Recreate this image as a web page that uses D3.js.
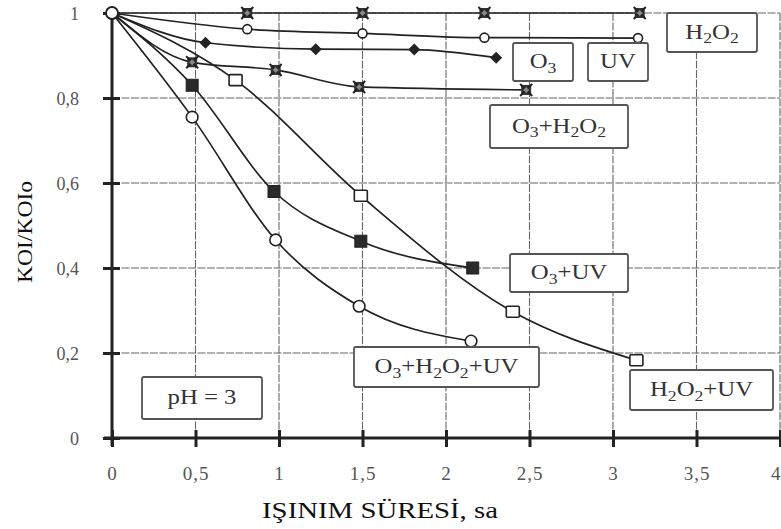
<!DOCTYPE html>
<html>
<head>
<meta charset="utf-8">
<script src="https://cdn.jsdelivr.net/npm/d3@7/dist/d3.min.js"></script>
<style>
  html, body { margin: 0; padding: 0; background: #fff; }
  svg { display: block; }
  text { font-family: "Liberation Serif", "Times New Roman", serif; }
</style>
</head>
<body>
<svg id="chart" width="781" height="529"></svg>
<script>
// Irradiation time (h)
const xTicks = [0, 0.5, 1, 1.5, 2, 2.5, 3, 3.5, 4];
const xTickLabels = ["0", "0,5", "1", "1,5", "2", "2,5", "3", "3,5", "4"];
const yTicks = [0, 0.2, 0.4, 0.6, 0.8, 1];
const yTickLabels = ["0", "0,2", "0,4", "0,6", "0,8", "1"];

// COD/COD0 per treatment
const h2o2X = [0, 0.81, 1.5, 2.23, 3.16];
const h2o2Y = [1, 1, 1, 1, 1];
const uvX = [0, 0.81, 1.5, 2.23, 3.15];
const uvY = [1, 0.962, 0.952, 0.942, 0.941];
const o3X = [0, 0.56, 1.22, 1.81, 2.3];
const o3Y = [1, 0.93, 0.915, 0.914, 0.895];
const o3h2o2X = [0, 0.48, 0.98, 1.48, 2.48];
const o3h2o2Y = [1, 0.884, 0.866, 0.826, 0.819];
const o3uvX = [0, 0.48, 0.97, 1.49, 2.16];
const o3uvY = [1, 0.83, 0.58, 0.463, 0.40];
const h2o2uvX = [0, 0.74, 1.49, 2.4, 3.14];
const h2o2uvY = [1, 0.842, 0.57, 0.297, 0.183];
const allX = [0, 0.48, 0.98, 1.48, 2.15];
const allY = [1, 0.755, 0.466, 0.31, 0.228];

const svg = d3.select("#chart");
const x = d3.scaleLinear().domain([0, 4]).range([112, 780]);
const y = d3.scaleLinear().domain([0, 1]).range([438, 13]);

const ink = "#222";
const gridInk = "#666";

// grid
const grid = svg.append("g");
grid.selectAll("line.vg").data(xTicks.slice(1)).join("line")
  .attr("x1", d => x(d)).attr("x2", d => x(d))
  .attr("y1", y(1)).attr("y2", y(0))
  .attr("stroke", gridInk).attr("stroke-width", 1.1)
  .attr("stroke-dasharray", "8,1.5");
grid.selectAll("line.hg").data(yTicks.slice(1)).join("line")
  .attr("x1", x(0)).attr("x2", x(4))
  .attr("y1", d => y(d)).attr("y2", d => y(d))
  .attr("stroke", gridInk).attr("stroke-width", 1.1)
  .attr("stroke-dasharray", "8,1.5");

// axes
const xAxis = d3.axisBottom(x).tickValues(xTicks)
  .tickFormat((d, i) => xTickLabels[i]).tickSize(0).tickPadding(0);
const gx = svg.append("g").attr("transform", `translate(0,${y(0)})`).call(xAxis);
gx.select(".domain").remove();
gx.selectAll(".tick text").attr("dy", null).attr("y", 42)
  .attr("font-size", 19).attr("letter-spacing", 1).attr("fill", "#555");
// last label sits at the right edge of the frame
gx.selectAll(".tick text").filter(d => d === 4)
  .attr("text-anchor", "end").attr("x", 781 - x(4));
gx.selectAll(".tick").append("line")
  .attr("y1", -8).attr("y2", 9).attr("stroke", ink).attr("stroke-width", 3);
svg.append("line").attr("x1", x(0) - 8).attr("x2", x(4))
  .attr("y1", y(0)).attr("y2", y(0)).attr("stroke", ink).attr("stroke-width", 3);

const yAxis = d3.axisLeft(y).tickValues(yTicks)
  .tickFormat((d, i) => yTickLabels[i]).tickSize(0).tickPadding(0);
const gy = svg.append("g").attr("transform", `translate(${x(0)},0)`).call(yAxis);
gy.select(".domain").remove();
gy.selectAll(".tick text").attr("x", -33).attr("dy", "0.35em")
  .attr("font-size", 18).attr("fill", "#555");
gy.selectAll(".tick").append("line")
  .attr("x1", -9).attr("x2", 8).attr("stroke", ink).attr("stroke-width", 3);
svg.append("line").attr("x1", x(0)).attr("x2", x(0))
  .attr("y1", y(1)).attr("y2", y(0) + 8).attr("stroke", ink).attr("stroke-width", 3);

// axis titles
svg.append("text").attr("transform", "translate(380,518) scale(1.2,1)")
  .attr("text-anchor", "middle")
  .attr("font-size", 24).attr("fill", "#111").text("IŞINIM SÜRESİ, sa");
svg.append("text").attr("transform", "translate(32,232) rotate(-90) scale(1.18,1)")
  .attr("text-anchor", "middle").attr("font-size", 20).attr("fill", "#111")
  .text("KOI/KOIo");

// series
const series = [
  { xs: h2o2X, ys: h2o2Y, mark: "star" },
  { xs: uvX, ys: uvY, mark: "circleSmall" },
  { xs: o3X, ys: o3Y, mark: "diamond" },
  { xs: o3h2o2X, ys: o3h2o2Y, mark: "star" },
  { xs: o3uvX, ys: o3uvY, mark: "squareFilled" },
  { xs: h2o2uvX, ys: h2o2uvY, mark: "squareOpen" },
  { xs: allX, ys: allY, mark: "circleLarge" }
];

const line = d3.line().x(d => x(d[0])).y(d => y(d[1]))
  .curve(d3.curveMonotoneX);

const lines = svg.append("g");
series.forEach(s => {
  const pts = s.xs.map((v, i) => [v, s.ys[i]]);
  lines.append("path").datum(pts).attr("d", line)
    .attr("fill", "none").attr("stroke", ink).attr("stroke-width", 1.7);
});

const marks = svg.append("g");
series.forEach(s => {
  const pts = s.xs.map((v, i) => [v, s.ys[i]]).slice(1);
  const g = marks.selectAll(null).data(pts).join("g")
    .attr("transform", d => `translate(${x(d[0])},${y(d[1])})`);
  if (s.mark === "star") {
    g.append("rect").attr("x", -5).attr("y", -5).attr("width", 10).attr("height", 10)
      .attr("fill", "#333");
    g.append("path").attr("d", "M-6,-6L6,6M6,-6L-6,6").attr("stroke", ink).attr("stroke-width", 2);
    g.append("path").attr("d", "M0,-3L3,0L0,3L-3,0Z").attr("fill", "#888");
  } else if (s.mark === "circleSmall") {
    g.append("circle").attr("r", 4.5).attr("fill", "#fff").attr("stroke", ink).attr("stroke-width", 1.6);
  } else if (s.mark === "circleLarge") {
    g.append("circle").attr("r", 5.8).attr("fill", "#fff").attr("stroke", ink).attr("stroke-width", 1.6);
  } else if (s.mark === "diamond") {
    g.append("path").attr("d", "M0,-6L6,0L0,6L-6,0Z").attr("fill", ink);
  } else if (s.mark === "squareFilled") {
    g.append("rect").attr("x", -6).attr("y", -6).attr("width", 12).attr("height", 12)
      .attr("fill", "#2a2a2a").attr("stroke", ink).attr("stroke-width", 1);
  } else if (s.mark === "squareOpen") {
    g.append("rect").attr("x", -6.5).attr("y", -5.5).attr("width", 13).attr("height", 11)
      .attr("rx", 1).attr("fill", "#fff").attr("stroke", ink).attr("stroke-width", 1.6);
  }
});
// origin marker shared by all series
svg.append("circle").attr("cx", x(0)).attr("cy", y(1)).attr("r", 6)
  .attr("fill", "#fff").attr("stroke", ink).attr("stroke-width", 1.8);

// series labels (text parts: [string, isSubscript])
const labels = [
  { box: [667, 13, 757, 52], parts: [["H", 0], ["2", 1], ["O", 0], ["2", 1]] },
  { box: [513, 43, 573, 81], parts: [["O", 0], ["3", 1]] },
  { box: [588, 43, 648, 81], parts: [["UV", 0]] },
  { box: [490, 105, 628, 148], parts: [["O", 0], ["3", 1], ["+H", 0], ["2", 1], ["O", 0], ["2", 1]] },
  { box: [510, 254, 628, 292], parts: [["O", 0], ["3", 1], ["+UV", 0]] },
  { box: [354, 347, 539, 387], parts: [["O", 0], ["3", 1], ["+H", 0], ["2", 1], ["O", 0], ["2", 1], ["+UV", 0]] },
  { box: [630, 370, 773, 410], parts: [["H", 0], ["2", 1], ["O", 0], ["2", 1], ["+UV", 0]] },
  { box: [142, 377, 262, 419], parts: [["pH = 3", 0]] }
];

const lg = svg.append("g");
labels.forEach(l => {
  const [x0, y0, x1, y1] = l.box;
  lg.append("rect").attr("x", x0).attr("y", y0).attr("width", x1 - x0).attr("height", y1 - y0)
    .attr("rx", 2).attr("fill", "#fff").attr("stroke", "#555").attr("stroke-width", 1.8);
  const t = lg.append("text")
    .attr("transform", `translate(${(x0 + x1) / 2},${(y0 + y1) / 2 + 6}) scale(1.18,1)`)
    .attr("text-anchor", "middle").attr("font-size", 21).attr("fill", "#333");
  l.parts.forEach(([s, sub]) => {
    const ts = t.append("tspan").text(s);
    if (sub) ts.attr("font-size", 15).attr("baseline-shift", "-30%");
  });
});
</script>
</body>
</html>
